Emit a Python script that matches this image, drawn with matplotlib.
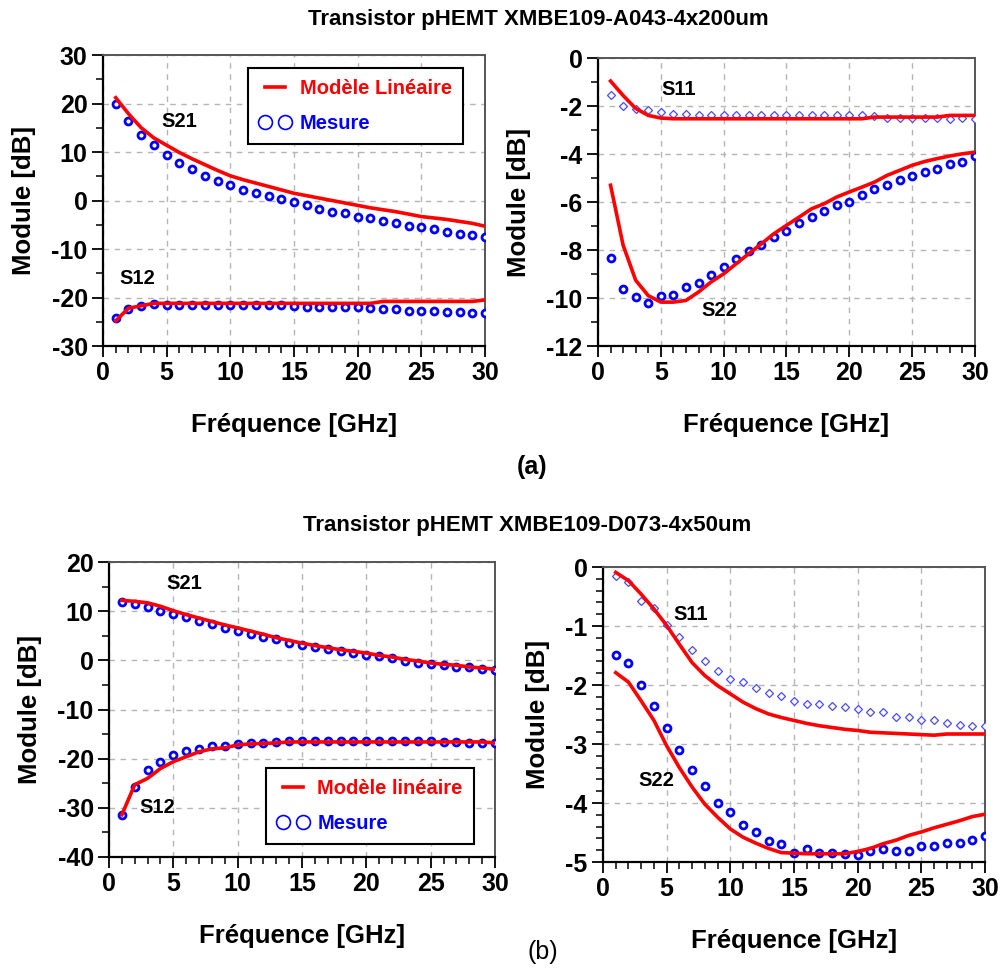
import matplotlib
matplotlib.use("Agg")
import matplotlib.pyplot as plt
from matplotlib.lines import Line2D
from matplotlib.ticker import MultipleLocator

plt.rcParams["font.family"] = ["Liberation Sans", "DejaVu Sans"]
plt.rcParams["font.weight"] = "bold"
plt.rcParams["axes.unicode_minus"] = False

FREQ = [1, 2, 3, 4, 5, 6, 7, 8, 9, 10, 11, 12, 13, 14, 15,
        16, 17, 18, 19, 20, 21, 22, 23, 24, 25, 26, 27, 28, 29, 30]

# (a) XMBE109-A043-4x200um
A_S21_MES = [20.0, 16.5, 13.5, 11.4, 9.4, 7.7, 6.4, 5.1, 4.1, 3.2, 2.2, 1.6, 1.0, 0.3, -0.4,
             -1.0, -1.7, -2.3, -2.6, -3.3, -3.6, -4.2, -4.6, -5.2, -5.5, -5.9, -6.5, -6.8, -7.2, -7.5]
A_S21_MOD = [21.2, 17.9, 15.0, 12.9, 11.4, 9.9, 8.6, 7.4, 6.2, 5.1, 4.3, 3.6, 2.9, 2.2, 1.5,
             1.0, 0.5, 0.0, -0.5, -1.0, -1.5, -1.9, -2.3, -2.8, -3.3, -3.6, -3.9, -4.3, -4.7, -5.3]
A_S12_MES = [-24.3, -22.4, -21.7, -21.4, -21.5, -21.5, -21.5, -21.5, -21.6, -21.6, -21.6, -21.6, -21.6, -21.6, -21.7,
             -21.9, -21.9, -21.9, -21.9, -21.9, -22.2, -22.4, -22.4, -22.7, -22.7, -22.7, -22.9, -22.9, -23.2, -23.2]
A_S12_MOD = [-24.8, -22.2, -21.7, -21.2, -21.2, -21.2, -21.2, -21.2, -21.2, -21.2, -21.2, -21.2, -21.2, -21.2, -21.2,
             -21.2, -21.2, -21.2, -21.2, -21.2, -21.2, -20.8, -20.8, -20.8, -20.8, -20.8, -20.8, -20.8, -20.8, -20.5]
A_S11_MES = [-1.56, -2.0, -2.11, -2.18, -2.25, -2.32, -2.32, -2.39, -2.39, -2.39, -2.39, -2.39, -2.39, -2.39, -2.39,
             -2.39, -2.39, -2.39, -2.39, -2.39, -2.39, -2.42, -2.48, -2.48, -2.48, -2.48, -2.48, -2.55, -2.48, -2.52]
A_S11_MOD = [-0.96, -1.56, -2.1, -2.39, -2.5, -2.53, -2.53, -2.53, -2.53, -2.53, -2.53, -2.53, -2.53, -2.53, -2.53,
             -2.53, -2.53, -2.53, -2.53, -2.53, -2.53, -2.46, -2.46, -2.46, -2.46, -2.46, -2.46, -2.39, -2.39, -2.39]
A_S22_MES = [-8.32, -9.61, -9.96, -10.21, -9.93, -9.89, -9.54, -9.36, -9.03, -8.71, -8.39, -8.06, -7.81, -7.47, -7.21,
             -6.89, -6.61, -6.39, -6.14, -6.0, -5.72, -5.44, -5.31, -5.07, -4.93, -4.75, -4.61, -4.43, -4.33, -4.08]
A_S22_MOD = [-5.3, -7.8, -9.26, -9.9, -10.17, -10.17, -10.1, -9.75, -9.33, -8.99, -8.57, -8.15, -7.74, -7.32, -6.97,
             -6.63, -6.28, -6.07, -5.79, -5.58, -5.38, -5.17, -4.89, -4.68, -4.47, -4.31, -4.19, -4.08, -3.99, -3.92]

# (b) XMBE109-D073-4x50um
B_S21_MES = [11.96, 11.5, 10.8, 10.1, 9.46, 8.8, 8.0, 7.3, 6.6, 5.95, 5.4, 4.7, 4.26, 3.58, 3.04,
             2.7, 2.23, 1.89, 1.49, 1.15, 0.81, 0.54, -0.14, -0.54, -0.68, -1.0, -1.35, -1.35, -1.69, -2.03]
B_S21_MOD = [12.2, 12.0, 11.7, 11.0, 10.1, 9.3, 8.6, 7.9, 7.2, 6.6, 5.95, 5.3, 4.6, 4.05, 3.5,
             3.0, 2.57, 2.16, 1.82, 1.49, 1.0, 0.68, 0.2, -0.14, -0.54, -0.81, -1.0, -1.35, -1.55, -1.82]
B_S12_MES = [-31.4, -25.7, -22.3, -20.6, -19.3, -18.4, -18.1, -17.4, -17.4, -17.0, -16.8, -16.8, -16.6, -16.4, -16.4,
             -16.4, -16.4, -16.5, -16.5, -16.5, -16.5, -16.5, -16.5, -16.5, -16.5, -16.6, -16.6, -16.8, -16.8, -16.9]
B_S12_MOD = [-31.4, -25.3, -24.0, -22.0, -20.6, -19.6, -18.6, -18.0, -17.8, -17.2, -17.0, -16.9, -16.8, -16.6, -16.6,
             -16.6, -16.6, -16.6, -16.6, -16.6, -16.6, -16.6, -16.6, -16.6, -16.6, -16.6, -16.6, -16.6, -16.6, -16.8]
B_S11_MES = [-0.15, -0.26, -0.57, -0.70, -0.98, -1.19, -1.41, -1.60, -1.76, -1.89, -1.94, -2.05, -2.14, -2.19, -2.27,
             -2.32, -2.32, -2.35, -2.38, -2.41, -2.46, -2.46, -2.54, -2.54, -2.59, -2.59, -2.64, -2.67, -2.69, -2.69]
B_S11_MOD = [-0.09, -0.23, -0.46, -0.71, -0.99, -1.31, -1.62, -1.84, -2.01, -2.15, -2.29, -2.4, -2.49, -2.55, -2.6,
             -2.65, -2.69, -2.72, -2.75, -2.77, -2.8, -2.81, -2.82, -2.83, -2.84, -2.85, -2.83, -2.83, -2.83, -2.83]
B_S22_MES = [-1.49, -1.63, -2.0, -2.35, -2.73, -3.1, -3.44, -3.71, -4.0, -4.16, -4.37, -4.49, -4.64, -4.69, -4.84,
             -4.78, -4.85, -4.85, -4.86, -4.88, -4.81, -4.78, -4.81, -4.81, -4.72, -4.72, -4.68, -4.68, -4.62, -4.56]
B_S22_MOD = [-1.79, -1.95, -2.27, -2.6, -3.03, -3.4, -3.73, -4.02, -4.24, -4.44, -4.58, -4.68, -4.77, -4.84, -4.85,
             -4.86, -4.86, -4.86, -4.86, -4.82, -4.77, -4.69, -4.63, -4.55, -4.49, -4.42, -4.36, -4.3, -4.23, -4.19]

RED = "#ff0000"
BLUE = "#0000ff"
LIGHT_BLUE = "#4a4aff"


def style_axes(ax, ylim, ymajor, yminor):
    ax.set_xlim(0, 30)
    ax.set_ylim(*ylim)
    ax.xaxis.set_major_locator(MultipleLocator(5))
    ax.xaxis.set_minor_locator(MultipleLocator(1))
    ax.yaxis.set_major_locator(MultipleLocator(ymajor))
    ax.yaxis.set_minor_locator(MultipleLocator(yminor))
    ax.tick_params(which="major", direction="out", length=8, width=1.3, labelsize=18, pad=3)
    ax.tick_params(which="minor", direction="out", length=5, width=1.1)
    ax.grid(which="major", color="#b5b5b5", linestyle=(0, (4, 4)), linewidth=1.0)
    ax.set_axisbelow(True)
    for side in ("left", "bottom"):
        ax.spines[side].set_linewidth(1.6)
        ax.spines[side].set_color("black")
    for side in ("top", "right"):
        ax.spines[side].set_linewidth(1.4)
        ax.spines[side].set_color("#555555")
    ax.set_xlabel("Fréquence [GHz]", fontsize=18.5, fontweight="bold", labelpad=20)
    ax.set_ylabel("Module [dB]", fontsize=18.5, fontweight="bold", labelpad=11)
    for lab in ax.get_xticklabels() + ax.get_yticklabels():
        lab.set_fontweight("bold")


def plot_mes(ax, y, marker="o"):
    if marker == "o":
        ax.plot(FREQ, y, linestyle="none", marker="o", markersize=5, markeredgewidth=2.0,
                markeredgecolor=BLUE, markerfacecolor="white", zorder=3)
    else:
        ax.plot(FREQ, y, linestyle="none", marker="D", markersize=4.5, markeredgewidth=0.9,
                markeredgecolor=LIGHT_BLUE, markerfacecolor="white", zorder=3)


def plot_mod(ax, y):
    ax.plot(FREQ, y, color=RED, linewidth=2.6, zorder=4)


def add_legend(ax, model_label, anchor):
    handles = [
        Line2D([], [], color=RED, linewidth=2.6),
        Line2D([], [], linestyle="none", marker="o", markersize=10, markeredgewidth=1.2,
               markeredgecolor=BLUE, markerfacecolor="none"),
    ]
    leg = ax.legend(handles, [model_label, "Mesure"], loc="upper left", bbox_to_anchor=anchor,
                    numpoints=2, fancybox=False, framealpha=1, edgecolor="black",
                    prop={"size": 14.5, "weight": "bold"}, handlelength=1.6, handletextpad=0.4,
                    borderpad=0.55, borderaxespad=0, labelspacing=0.8)
    leg.get_frame().set_linewidth(1.5)
    leg.get_texts()[0].set_color(RED)
    leg.get_texts()[1].set_color(BLUE)
    leg.set_zorder(6)


def label(ax, x, y, text):
    ax.text(x, y, text, fontsize=14.5, fontweight="bold", ha="center", va="center", zorder=5)


fig = plt.figure(figsize=(10.01, 9.69), dpi=100)

ax1 = fig.add_axes([0.1029, 0.6429, 0.3816, 0.3003])
style_axes(ax1, (-30, 30), 10, 5)
plot_mes(ax1, A_S21_MES)
plot_mes(ax1, A_S12_MES)
plot_mod(ax1, A_S21_MOD)
plot_mod(ax1, A_S12_MOD)
label(ax1, 5.97, 16.2, "S21")
label(ax1, 2.67, -16.0, "S12")
add_legend(ax1, "Modèle Linéaire", (0.38, 0.955))

ax2 = fig.add_axes([0.5974, 0.6429, 0.3766, 0.2972])
style_axes(ax2, (-12, 0), 2, 1)
plot_mes(ax2, A_S11_MES, marker="D")
plot_mes(ax2, A_S22_MES)
plot_mod(ax2, A_S11_MOD)
plot_mod(ax2, A_S22_MOD)
label(ax2, 6.45, -1.33, "S11")
label(ax2, 9.63, -10.5, "S22")

ax3 = fig.add_axes([0.1089, 0.1156, 0.3856, 0.3044])
style_axes(ax3, (-40, 20), 10, 5)
plot_mes(ax3, B_S21_MES)
plot_mes(ax3, B_S12_MES)
plot_mod(ax3, B_S21_MOD)
plot_mod(ax3, B_S12_MOD)
label(ax3, 5.83, 15.7, "S21")
label(ax3, 3.73, -30.0, "S12")
add_legend(ax3, "Modèle linéaire", (0.407, 0.302))

ax4 = fig.add_axes([0.6024, 0.1104, 0.3816, 0.3044])
style_axes(ax4, (-5, 0), 1, 0.2)
plot_mes(ax4, B_S11_MES, marker="D")
plot_mes(ax4, B_S22_MES)
plot_mod(ax4, B_S11_MOD)
plot_mod(ax4, B_S22_MOD)
label(ax4, 6.91, -0.81, "S11")
label(ax4, 4.16, -3.61, "S22")

fig.text(0.538, 1 - 20 / 969, "Transistor pHEMT XMBE109-A043-4x200um", ha="center", va="center",
         fontsize=16, fontweight="bold")
fig.text(0.532, 1 - 467 / 969, "(a)", ha="center", va="center", fontsize=18, fontweight="bold")
fig.text(0.527, 1 - 525 / 969, "Transistor pHEMT XMBE109-D073-4x50um", ha="center", va="center",
         fontsize=16, fontweight="bold")
fig.text(0.542, 1 - 952 / 969, "(b)", ha="center", va="center", fontsize=18, fontweight="normal")

fig.savefig("out.png", dpi=100)
